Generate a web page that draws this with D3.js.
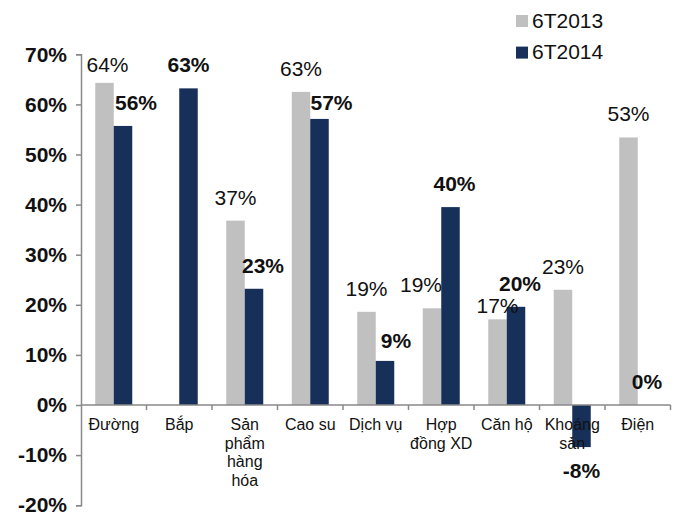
<!DOCTYPE html>
<html>
<head>
<meta charset="utf-8">
<script src="https://cdn.jsdelivr.net/npm/d3@7"></script>
<style>
  html, body { margin: 0; padding: 0; background: #fff; }
  svg { display: block; font-family: "Liberation Sans", Arial, sans-serif; }
</style>
</head>
<body>
<svg id="chart" width="680" height="512"></svg>
<script>
// Categories (line breaks mark how each axis label wraps)
const categories = ["Đường", "Bắp", "Sản\nphẩm\nhàng\nhóa", "Cao su", "Dịch vụ", "Hợp\nđồng XD", "Căn hộ", "Khoáng\nsản", "Điện"];
const seriesNames = ["6T2013", "6T2014"];
// Growth by segment, first half of each year (null = no figure)
const values2013 = [0.643, null, 0.368, 0.625, 0.186, 0.193, 0.171, 0.230, 0.534];
const values2014 = [0.557, 0.632, 0.232, 0.571, 0.088, 0.395, 0.196, -0.084, 0.0];
const yTicks = [-0.2, -0.1, 0, 0.1, 0.2, 0.3, 0.4, 0.5, 0.6, 0.7];

const colors = { "6T2013": "#c0c0c0", "6T2014": "#17305a" };
const axisColor = "#898989";
// Percent format with a plain hyphen for negatives
const locale = d3.formatLocale({ decimal: ".", thousands: ",", grouping: [3], currency: ["", ""], minus: "-" });
const fmt = locale.format(".0%");

// Hand-placed label nudges [dx, dy] so neighbouring labels don't collide
const labelNudge = {
  "6T2013": { 0: [3, 5], 5: [-11, 0], 6: [0, 10] },
  "6T2014": { 0: [13, 0], 2: [9, 0], 3: [12, 7], 4: [11, 3], 5: [4, 0], 6: [4, 0] }
};

const svg = d3.select("#chart");
const plot = { left: 81, right: 670.5, top: 54.3, bottom: 505.2 };

const x = d3.scaleBand().domain(d3.range(categories.length)).range([plot.left, plot.right]);
const groupWidth = 37;
const xs = d3.scaleBand().domain(seriesNames).range([0, groupWidth]);
const y = d3.scaleLinear().domain([-0.2, 0.7]).range([plot.bottom, plot.top]);

const rows = categories.map((c, i) => ({
  i, cat: c,
  vals: [
    { s: "6T2013", v: values2013[i] },
    { s: "6T2014", v: values2014[i] }
  ]
}));

const barX = (i, s) => x(i) + (x.bandwidth() - groupWidth) / 2 + xs(s);

// Bars
const g = svg.append("g");
rows.forEach(r => {
  r.vals.filter(d => d.v !== null).forEach(d => {
    g.append("rect")
      .attr("x", barX(r.i, d.s))
      .attr("width", xs.bandwidth())
      .attr("y", y(Math.max(0, d.v)))
      .attr("height", Math.abs(y(d.v) - y(0)))
      .attr("fill", colors[d.s]);
  });
});

// Y axis
const yAxis = d3.axisLeft(y).tickValues(yTicks).tickFormat(fmt).tickSize(5).tickPadding(9);
const ya = svg.append("g").attr("transform", `translate(${plot.left},0)`).call(yAxis);
ya.select(".domain").attr("stroke", axisColor).attr("stroke-width", 1.5);
ya.selectAll(".tick line").attr("stroke", axisColor).attr("stroke-width", 1.5);
ya.selectAll(".tick text")
  .attr("fill", "#111")
  .style("font-size", "21px")
  .style("font-weight", "bold")
  .style("font-family", "'Liberation Sans', Arial, sans-serif");

// X axis along zero, with ticks on category boundaries
const bounds = d3.range(categories.length + 1).map(k => plot.left + k * x.step());
svg.append("line")
  .attr("x1", plot.left).attr("x2", plot.right)
  .attr("y1", y(0)).attr("y2", y(0))
  .attr("stroke", axisColor).attr("stroke-width", 1.5);
svg.append("g").selectAll("line").data(bounds.slice(1)).join("line")
  .attr("x1", d => d).attr("x2", d => d)
  .attr("y1", y(0)).attr("y2", y(0) + 5)
  .attr("stroke", axisColor).attr("stroke-width", 1.5);

// Category labels
const catG = svg.append("g").attr("font-size", 16).attr("fill", "#111").attr("text-anchor", "middle");
rows.forEach(r => {
  const t = catG.append("text").attr("x", x(r.i) + x.bandwidth() / 2).attr("y", y(0) + 25);
  r.cat.split("\n").forEach((line, k) => {
    t.append("tspan").attr("x", x(r.i) + x.bandwidth() / 2).attr("dy", k === 0 ? 0 : 18.5).text(line);
  });
});

// Value labels
const lblG = svg.append("g").attr("font-size", 21).attr("fill", "#111").attr("text-anchor", "middle");
rows.forEach(r => {
  r.vals.filter(d => d.v !== null).forEach(d => {
    const n = (labelNudge[d.s] && labelNudge[d.s][r.i]) || [0, 0];
    const cx = barX(r.i, d.s) + xs.bandwidth() / 2 + n[0];
    const by = d.v >= 0 ? y(d.v) - 16 : y(d.v) + 31;
    lblG.append("text")
      .attr("x", cx).attr("y", by + n[1])
      .attr("font-weight", d.s === "6T2014" ? "bold" : "normal")
      .text(fmt(d.v));
  });
});

// Legend
const leg = svg.append("g").attr("transform", "translate(516,15)");
seriesNames.forEach((s, k) => {
  const row = leg.append("g").attr("transform", `translate(0,${k * 31.6})`);
  row.append("rect").attr("width", 12).attr("height", 12).attr("fill", colors[s]);
  row.append("text").attr("x", 16).attr("y", 12.7).attr("font-size", 21).attr("fill", "#111").text(s);
});
</script>
</body>
</html>
